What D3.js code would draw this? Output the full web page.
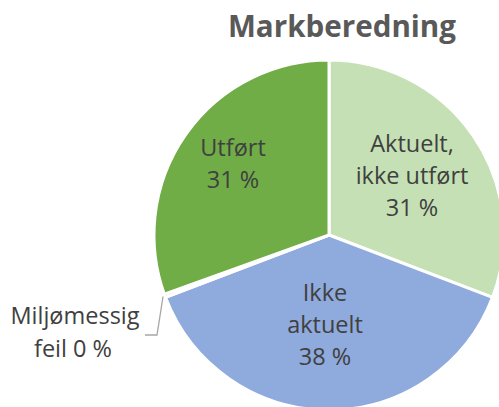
<!DOCTYPE html>
<html><head><meta charset="utf-8">
<script src="https://cdn.jsdelivr.net/npm/d3@7"></script>
<style>html,body{margin:0;padding:0;background:#fff;overflow:hidden}</style>
</head><body>
<svg id="chart" width="499" height="407"></svg>
<script>
const title = "Markberedning";
const categories = ["Aktuelt, ikke utført", "Ikke aktuelt", "Miljømessig feil", "Utført"];
const labelLines = [["Aktuelt,", "ikke utført"], ["Ikke", "aktuelt"], ["Miljømessig", "feil"], ["Utført"]];
const values = [30.8, 38.4, 0.3, 30.5];
const colors = ["#c5e0b4", "#8faadc", "#a5a5a5", "#70ad47"];

const svg = d3.select("#chart");
const cx = 329, cy = 235, R = 175;
const g = svg.append("g").attr("transform", `translate(${cx},${cy})`);

const pie = d3.pie().sort(null).value(d => d)(values);
const arc = d3.arc().innerRadius(0).outerRadius(R);

g.selectAll("path").data(pie).join("path")
  .attr("d", arc)
  .attr("fill", (d, i) => colors[i])
  .attr("stroke", "#fff").attr("stroke-width", 3).attr("stroke-linejoin", "round");

const fmt = v => Math.round(v) + " %";
const font = "'Open Sans', sans-serif";
const fs = 23.5;
const lh = 32;
// label anchor positions (relative to centre) for the inner labels
const labelPos = [[83, -83], [-4, 66], null, [-96, -79]];

pie.forEach((d, i) => {
  if (!labelPos[i]) return;
  const lines = labelLines[i].concat([fmt(values[i])]);
  const [lx, ly] = labelPos[i];
  const t = g.append("text").attr("text-anchor", "middle")
    .attr("font-family", font).attr("font-size", fs).attr("fill", "#404040");
  lines.forEach((s, k) => t.append("tspan").attr("x", lx).attr("y", ly + k * lh).text(s));
});

// outside label for the tiny slice with leader line
const small = pie[2];
const mid = (small.startAngle + small.endAngle) / 2;
const px = Math.sin(mid) * (R + 2), py = -Math.cos(mid) * (R + 2);
g.append("polyline")
  .attr("points", [[px, py], [-172, 100], [-184, 100]].map(p => p.join(",")).join(" "))
  .attr("fill", "none").attr("stroke", "#a6a6a6").attr("stroke-width", 1.3);
const st = g.append("text").attr("text-anchor", "middle")
  .attr("font-family", font).attr("font-size", fs).attr("fill", "#404040");
st.append("tspan").attr("x", -254).attr("y", 89).text(labelLines[2][0]);
st.append("tspan").attr("x", -256).attr("y", 122).text(labelLines[2][1] + " " + fmt(values[2]));

svg.append("text").attr("x", 342).attr("y", 37).attr("text-anchor", "middle")
  .attr("font-family", font).attr("font-weight", "bold").attr("font-size", 29.6)
  .attr("fill", "#595959").text(title);
</script>
</body></html>
